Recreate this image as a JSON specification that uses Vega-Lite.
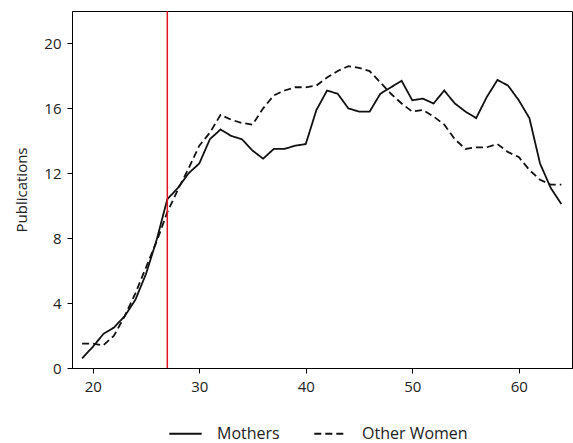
{
  "$schema": "https://vega.github.io/schema/vega-lite/v6.json",
  "width": 500,
  "height": 357,
  "autosize": {"type": "none"},
  "padding": {"left": 72, "top": 11, "right": 1, "bottom": 75},
  "background": "white",
  "config": {
    "font": "Open Sans",
    "view": {"stroke": "#000000", "strokeWidth": 1},
    "axis": {"domainColor": "#000000", "tickColor": "#000000", "labelColor": "#222222", "titleColor": "#222222", "grid": false, "labelFont": "Open Sans", "titleFont": "Open Sans", "labelFontSize": 15, "titleFontSize": 15, "titleFontWeight": "normal", "tickSize": 5, "labelPadding": 6}
  },
  "layer": [
    {
      "data": {
        "values": [
          {"age": 19, "pubs": 0.6, "group": "Mothers"},
          {"age": 20, "pubs": 1.3, "group": "Mothers"},
          {"age": 21, "pubs": 2.1, "group": "Mothers"},
          {"age": 22, "pubs": 2.5, "group": "Mothers"},
          {"age": 23, "pubs": 3.2, "group": "Mothers"},
          {"age": 24, "pubs": 4.2, "group": "Mothers"},
          {"age": 25, "pubs": 5.8, "group": "Mothers"},
          {"age": 26, "pubs": 7.9, "group": "Mothers"},
          {"age": 27, "pubs": 10.4, "group": "Mothers"},
          {"age": 28, "pubs": 11.1, "group": "Mothers"},
          {"age": 29, "pubs": 12.0, "group": "Mothers"},
          {"age": 30, "pubs": 12.6, "group": "Mothers"},
          {"age": 31, "pubs": 14.1, "group": "Mothers"},
          {"age": 32, "pubs": 14.7, "group": "Mothers"},
          {"age": 33, "pubs": 14.3, "group": "Mothers"},
          {"age": 34, "pubs": 14.1, "group": "Mothers"},
          {"age": 35, "pubs": 13.4, "group": "Mothers"},
          {"age": 36, "pubs": 12.9, "group": "Mothers"},
          {"age": 37, "pubs": 13.5, "group": "Mothers"},
          {"age": 38, "pubs": 13.5, "group": "Mothers"},
          {"age": 39, "pubs": 13.7, "group": "Mothers"},
          {"age": 40, "pubs": 13.8, "group": "Mothers"},
          {"age": 41, "pubs": 15.9, "group": "Mothers"},
          {"age": 42, "pubs": 17.1, "group": "Mothers"},
          {"age": 43, "pubs": 16.9, "group": "Mothers"},
          {"age": 44, "pubs": 16.0, "group": "Mothers"},
          {"age": 45, "pubs": 15.8, "group": "Mothers"},
          {"age": 46, "pubs": 15.8, "group": "Mothers"},
          {"age": 47, "pubs": 16.9, "group": "Mothers"},
          {"age": 48, "pubs": 17.3, "group": "Mothers"},
          {"age": 49, "pubs": 17.7, "group": "Mothers"},
          {"age": 50, "pubs": 16.5, "group": "Mothers"},
          {"age": 51, "pubs": 16.6, "group": "Mothers"},
          {"age": 52, "pubs": 16.3, "group": "Mothers"},
          {"age": 53, "pubs": 17.1, "group": "Mothers"},
          {"age": 54, "pubs": 16.3, "group": "Mothers"},
          {"age": 55, "pubs": 15.8, "group": "Mothers"},
          {"age": 56, "pubs": 15.4, "group": "Mothers"},
          {"age": 57, "pubs": 16.7, "group": "Mothers"},
          {"age": 58, "pubs": 17.75, "group": "Mothers"},
          {"age": 59, "pubs": 17.4, "group": "Mothers"},
          {"age": 60, "pubs": 16.5, "group": "Mothers"},
          {"age": 61, "pubs": 15.4, "group": "Mothers"},
          {"age": 62, "pubs": 12.6, "group": "Mothers"},
          {"age": 63, "pubs": 11.1, "group": "Mothers"},
          {"age": 64, "pubs": 10.1, "group": "Mothers"},
          {"age": 19, "pubs": 1.5, "group": "Other Women"},
          {"age": 20, "pubs": 1.5, "group": "Other Women"},
          {"age": 21, "pubs": 1.4, "group": "Other Women"},
          {"age": 22, "pubs": 2.0, "group": "Other Women"},
          {"age": 23, "pubs": 3.2, "group": "Other Women"},
          {"age": 24, "pubs": 4.6, "group": "Other Women"},
          {"age": 25, "pubs": 6.2, "group": "Other Women"},
          {"age": 26, "pubs": 7.8, "group": "Other Women"},
          {"age": 27, "pubs": 9.6, "group": "Other Women"},
          {"age": 28, "pubs": 11.0, "group": "Other Women"},
          {"age": 29, "pubs": 12.3, "group": "Other Women"},
          {"age": 30, "pubs": 13.7, "group": "Other Women"},
          {"age": 31, "pubs": 14.5, "group": "Other Women"},
          {"age": 32, "pubs": 15.6, "group": "Other Women"},
          {"age": 33, "pubs": 15.3, "group": "Other Women"},
          {"age": 34, "pubs": 15.1, "group": "Other Women"},
          {"age": 35, "pubs": 15.0, "group": "Other Women"},
          {"age": 36, "pubs": 16.0, "group": "Other Women"},
          {"age": 37, "pubs": 16.8, "group": "Other Women"},
          {"age": 38, "pubs": 17.1, "group": "Other Women"},
          {"age": 39, "pubs": 17.3, "group": "Other Women"},
          {"age": 40, "pubs": 17.3, "group": "Other Women"},
          {"age": 41, "pubs": 17.4, "group": "Other Women"},
          {"age": 42, "pubs": 17.9, "group": "Other Women"},
          {"age": 43, "pubs": 18.3, "group": "Other Women"},
          {"age": 44, "pubs": 18.6, "group": "Other Women"},
          {"age": 45, "pubs": 18.5, "group": "Other Women"},
          {"age": 46, "pubs": 18.3, "group": "Other Women"},
          {"age": 47, "pubs": 17.6, "group": "Other Women"},
          {"age": 48, "pubs": 16.9, "group": "Other Women"},
          {"age": 49, "pubs": 16.3, "group": "Other Women"},
          {"age": 50, "pubs": 15.8, "group": "Other Women"},
          {"age": 51, "pubs": 15.9, "group": "Other Women"},
          {"age": 52, "pubs": 15.5, "group": "Other Women"},
          {"age": 53, "pubs": 15.0, "group": "Other Women"},
          {"age": 54, "pubs": 14.1, "group": "Other Women"},
          {"age": 55, "pubs": 13.5, "group": "Other Women"},
          {"age": 56, "pubs": 13.6, "group": "Other Women"},
          {"age": 57, "pubs": 13.6, "group": "Other Women"},
          {"age": 58, "pubs": 13.8, "group": "Other Women"},
          {"age": 59, "pubs": 13.3, "group": "Other Women"},
          {"age": 60, "pubs": 13.0, "group": "Other Women"},
          {"age": 61, "pubs": 12.2, "group": "Other Women"},
          {"age": 62, "pubs": 11.6, "group": "Other Women"},
          {"age": 63, "pubs": 11.3, "group": "Other Women"},
          {"age": 64, "pubs": 11.3, "group": "Other Women"}
        ]
      },
      "mark": {"type": "line", "color": "#111111", "strokeWidth": 1.8},
      "encoding": {
        "x": {"field": "age", "type": "quantitative", "scale": {"domain": [18.05, 65], "nice": false, "zero": false}, "axis": {"values": [20, 30, 40, 50, 60], "title": null}},
        "y": {"field": "pubs", "type": "quantitative", "scale": {"domain": [0, 22], "nice": false}, "axis": {"values": [0, 4, 8, 12, 16, 20], "title": "Publications", "titlePadding": 14}},
        "strokeDash": {
          "field": "group", "type": "nominal",
          "scale": {"domain": ["Mothers", "Other Women"], "range": [[1, 0], [7, 4]]},
          "legend": {"title": null, "orient": "none", "legendX": 96, "legendY": 405, "direction": "horizontal", "symbolType": "stroke", "symbolSize": 1050, "symbolStrokeWidth": 1.8, "symbolStrokeColor": "#111111", "labelFont": "Open Sans", "labelFontSize": 16, "labelColor": "#222222", "labelOffset": 14, "columnPadding": 30, "padding": 0}
        }
      }
    },
    {
      "data": {"values": [{"age": 27}]},
      "mark": {"type": "rule", "color": "#e0141e", "strokeWidth": 1.5},
      "encoding": {"x": {"field": "age", "type": "quantitative"}}
    }
  ]
}
